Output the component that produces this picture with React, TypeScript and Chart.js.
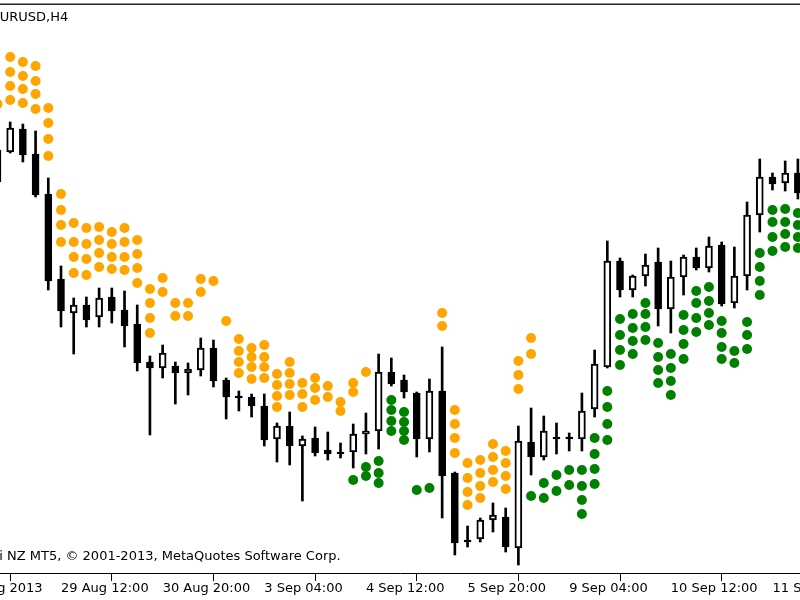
import React, { useEffect, useRef } from "react";
import { Chart, registerables } from "chart.js";

Chart.register(...registerables);

const chartTitle = "EURUSD,H4";
const copyright = "Alpari NZ MT5, \u00A9 2001-2013, MetaQuotes Software Corp.";

// H4 candles (EURUSD), bar index 0..63
const openPrices = [
  1.33375, 1.33365, 1.3348, 1.33355, 1.33155, 1.3273, 1.3256, 1.326, 1.3254, 1.3264,
  1.32575, 1.32505, 1.32315, 1.32285, 1.32295, 1.3226, 1.32275, 1.32385, 1.32225, 1.3214,
  1.3214, 1.32095, 1.3193, 1.31995, 1.31895, 1.31935, 1.31875, 1.3186, 1.31865, 1.31955,
  1.3197, 1.32265, 1.32225, 1.3216, 1.3193, 1.3217, 1.3176, 1.3142, 1.3143, 1.31525,
  1.3154, 1.31385, 1.31915, 1.3184, 1.31935, 1.31935, 1.3193, 1.3208, 1.3229, 1.3282,
  1.32675, 1.32745, 1.32815, 1.3258, 1.3274, 1.3284, 1.32785, 1.329, 1.3261, 1.32745,
  1.3305, 1.3324, 1.3321, 1.3326,
];
const highPrices = [
  1.33425, 1.33515, 1.33505, 1.3347, 1.33235, 1.32795, 1.32635, 1.3264, 1.32685, 1.32685,
  1.3267, 1.326, 1.32345, 1.324, 1.32315, 1.3231, 1.32435, 1.32425, 1.32235, 1.3217,
  1.32155, 1.32155, 1.3201, 1.32065, 1.31945, 1.3199, 1.31965, 1.3191, 1.32005, 1.3206,
  1.32355, 1.32335, 1.3225, 1.32165, 1.3223, 1.3239, 1.31765, 1.31495, 1.31535, 1.3161,
  1.31585, 1.31995, 1.32085, 1.32045, 1.3201, 1.3196, 1.3216, 1.32375, 1.3292, 1.32835,
  1.3275, 1.32855, 1.32885, 1.3282, 1.3285, 1.32885, 1.3294, 1.32915, 1.3289, 1.33115,
  1.3333, 1.3326, 1.3332, 1.3333,
];
const lowPrices = [
  1.33175, 1.3336, 1.33315, 1.3314, 1.32675, 1.3249, 1.32355, 1.3249, 1.3249, 1.3251,
  1.3239, 1.3227, 1.3195, 1.32235, 1.32105, 1.3215, 1.32245, 1.3219, 1.3203, 1.3207,
  1.3204, 1.31895, 1.31815, 1.318, 1.3162, 1.31845, 1.31825, 1.31835, 1.31785, 1.31855,
  1.3188, 1.32195, 1.32135, 1.3184, 1.31865, 1.31535, 1.3135, 1.3139, 1.31415, 1.31465,
  1.31365, 1.313, 1.3175, 1.31825, 1.31855, 1.3187, 1.3187, 1.3204, 1.32285, 1.3264,
  1.3264, 1.32695, 1.32495, 1.3246, 1.3265, 1.32775, 1.32765, 1.32595, 1.32585, 1.32675,
  1.32965, 1.33175, 1.3317, 1.3313,
];
const closePrices = [
  1.33215, 1.33485, 1.3335, 1.3315, 1.3272, 1.3257, 1.326, 1.32525, 1.32635, 1.3257,
  1.32495, 1.3231, 1.32285, 1.3236, 1.3226, 1.3228, 1.32385, 1.3222, 1.3214, 1.3214,
  1.32095, 1.31925, 1.31995, 1.31895, 1.3193, 1.3186, 1.31855, 1.3186, 1.31955, 1.3197,
  1.32265, 1.32205, 1.32165, 1.3193, 1.3217, 1.31745, 1.3141, 1.3142, 1.31525, 1.3155,
  1.3139, 1.3192, 1.3184, 1.3197, 1.31935, 1.31935, 1.3207, 1.32305, 1.3282, 1.32675,
  1.32745, 1.328, 1.3258, 1.3274, 1.3284, 1.32785, 1.32895, 1.32605, 1.32745, 1.3305,
  1.3324, 1.33205, 1.3326, 1.3316,
];

// Indicator dots above price (orange) per bar
const orangeDots: number[][] = [
  [1.33815, 1.33745, 1.33675, 1.33605],
  [1.3384, 1.33765, 1.33695, 1.33625],
  [1.33815, 1.33745, 1.3368, 1.3361],
  [1.33795, 1.3372, 1.33655, 1.3358],
  [1.33585, 1.3351, 1.3343, 1.33345],
  [1.33155, 1.33075, 1.33, 1.32915],
  [1.3301, 1.32915, 1.3284, 1.3276],
  [1.32985, 1.32905, 1.3283, 1.3275],
  [1.3299, 1.32925, 1.3286, 1.3279],
  [1.32965, 1.32905, 1.3284, 1.3278],
  [1.32985, 1.32915, 1.3284, 1.32775],
  [1.32925, 1.32855, 1.32785, 1.3271],
  [1.3268, 1.3261, 1.32535, 1.3246],
  [1.32735, 1.32665],
  [1.3261, 1.32545],
  [1.3261, 1.32545],
  [1.3273, 1.32665],
  [1.3272],
  [1.3252],
  [1.3243, 1.3237, 1.32315, 1.3226],
  [1.32385, 1.3234, 1.3229, 1.3223],
  [1.324, 1.3234, 1.3229, 1.32235],
  [1.32255, 1.322, 1.32145, 1.3209],
  [1.32315, 1.3226, 1.32205, 1.3215],
  [1.3221, 1.32155, 1.3209],
  [1.32235, 1.32185, 1.32125],
  [1.32195, 1.3214],
  [1.32115, 1.3207],
  [1.3221, 1.32165],
  [1.32265],
  [], [], [], [], [],
  [1.3256, 1.32495],
  [1.32075, 1.32005, 1.31935, 1.3186],
  [1.3181, 1.31735, 1.31665, 1.316],
  [1.31825, 1.3176, 1.31695, 1.31635],
  [1.31905, 1.3184, 1.31775, 1.31715],
  [1.3187, 1.3181, 1.31745, 1.3168],
  [1.3232, 1.3225, 1.3218],
  [1.32435, 1.32355],
  [], [], [], [], [], [], [], [], [], [], [], [], [], [], [], [], [], [], [], [], [],
];

// Indicator dots below price (green) per bar
const greenDots: number[][] = [
  [], [], [], [], [], [], [], [], [], [],
  [], [], [], [], [], [], [], [], [], [],
  [], [], [], [], [], [], [], [],
  [1.31725],
  [1.3179, 1.31745],
  [1.3182, 1.3176, 1.3171],
  [1.32125, 1.32075, 1.3202, 1.3197],
  [1.32065, 1.32015, 1.3197, 1.31925],
  [1.31675],
  [1.31685],
  [], [], [], [], [], [], [],
  [1.31645],
  [1.3171, 1.31635],
  [1.3175, 1.3167],
  [1.31775, 1.317],
  [1.31775, 1.31695, 1.31625, 1.31555],
  [1.31935, 1.31855, 1.3178, 1.31705],
  [1.3217, 1.3209, 1.32005, 1.31925],
  [1.3253, 1.3245, 1.32375, 1.323],
  [1.32555, 1.32485, 1.3242, 1.32355],
  [1.3261, 1.32555, 1.3249, 1.32425],
  [1.3241, 1.3234, 1.32275, 1.3221],
  [1.32355, 1.32285, 1.3222, 1.3215],
  [1.3255, 1.32475, 1.32405, 1.3233],
  [1.3267, 1.3261, 1.32535, 1.32465],
  [1.3269, 1.3262, 1.3256, 1.325],
  [1.3252, 1.3246, 1.3239, 1.3233],
  [1.3237, 1.3231],
  [1.32515, 1.3245, 1.3238],
  [1.3286, 1.3279, 1.3272, 1.3265],
  [1.33075, 1.33015, 1.3294, 1.3287],
  [1.3308, 1.33015, 1.32955, 1.3289],
  [1.3306, 1.33, 1.3294, 1.32885],
];

// Time axis labels (bar index -> label)
const tickBars = [-3, 5, 13, 21, 29, 37, 45, 53, 61];
const tickLabels = [
  "28 Aug 2013",
  "29 Aug 12:00",
  "30 Aug 20:00",
  "3 Sep 04:00",
  "4 Sep 12:00",
  "5 Sep 20:00",
  "9 Sep 04:00",
  "10 Sep 12:00",
  "11 Sep 20:00",
];

const priceMin = 1.3126;
const priceMax = 1.34125;
const barMin = 0.199;
const barMax = 63.166;

export default function App() {
  const canvasRef = useRef<HTMLCanvasElement | null>(null);

  useEffect(() => {
    if (!canvasRef.current) return;
    const n = openPrices.length;
    const idx = openPrices.map((_, i) => i);
    const bull = idx.map((i) => closePrices[i] > openPrices[i]);

    const wickData = idx.map((i) => ({ x: i, y: [lowPrices[i], highPrices[i]] }));
    const bodyData = idx.map((i) => {
      const o = openPrices[i];
      const c = closePrices[i];
      // doji: give it a visible hairline body
      if (o === c) return { x: i, y: [o - 0.00005, c + 0.00005] };
      return { x: i, y: [o, c] };
    });
    const orangePts: { x: number; y: number }[] = [];
    const greenPts: { x: number; y: number }[] = [];
    for (let i = 0; i < n; i++) {
      (orangeDots[i] || []).forEach((v) => orangePts.push({ x: i, y: v }));
      (greenDots[i] || []).forEach((v) => greenPts.push({ x: i, y: v }));
    }

    const overlay = {
      id: "overlay",
      beforeDraw(chart: any) {
        const ctx = chart.ctx;
        ctx.save();
        ctx.fillStyle = "#ffffff";
        ctx.fillRect(0, 0, chart.width, chart.height);
        ctx.restore();
      },
      afterDraw(chart: any) {
        const ctx = chart.ctx;
        ctx.save();
        ctx.fillStyle = "#222222";
        ctx.fillRect(0, 3.5, chart.width, 1.5);
        ctx.fillStyle = "#000000";
        ctx.font = '13px "DejaVu Sans"';
        ctx.textAlign = "left";
        ctx.textBaseline = "alphabetic";
        ctx.fillText(chartTitle, -8.5, 21);
        const pre = ctx.measureText("Alpari ").width;
        ctx.fillText(copyright, 7 - pre, 560);
        ctx.restore();
      },
    };

    const chart = new Chart(canvasRef.current, {
      type: "bar",
      data: {
        datasets: [
          {
            type: "bar",
            data: wickData as any,
            backgroundColor: "#000000",
            borderWidth: 0,
            barThickness: 2,
            grouped: false,
            order: 3,
          } as any,
          {
            type: "bar",
            data: bodyData as any,
            backgroundColor: idx.map((i) => (bull[i] ? "#ffffff" : "#000000")),
            borderColor: "#000000",
            borderWidth: 2,
            borderSkipped: false,
            barThickness: 7,
            grouped: false,
            order: 2,
          } as any,
          {
            type: "scatter",
            data: orangePts,
            backgroundColor: "#FFA500",
            borderWidth: 0,
            pointRadius: 5,
            order: 1,
          } as any,
          {
            type: "scatter",
            data: greenPts,
            backgroundColor: "#008000",
            borderWidth: 0,
            pointRadius: 5,
            order: 1,
          } as any,
        ],
      },
      options: {
        responsive: false,
        animation: false,
        devicePixelRatio: 1,
        layout: { padding: 0, autoPadding: false },
        plugins: {
          legend: { display: false },
          tooltip: { enabled: false },
          title: { display: false },
        },
        scales: {
          x: {
            type: "linear",
            min: barMin,
            max: barMax,
            bounds: "data",
            offset: false,
            position: "bottom",
            afterBuildTicks: (scale: any) => {
              scale.ticks = tickBars.map((v) => ({ value: v }));
            },
            afterFit: (scale: any) => {
              scale.paddingLeft = 0;
              scale.paddingRight = 0;
              scale.height = 27;
            },
            grid: {
              display: true,
              drawOnChartArea: false,
              drawTicks: true,
              tickLength: 8,
              color: "#000000",
              lineWidth: 1,
            },
            border: { display: true, color: "#000000", width: 1 },
            ticks: {
              autoSkip: false,
              maxRotation: 0,
              minRotation: 0,
              align: "start",
              padding: 0,
              color: "#000000",
              font: { family: "DejaVu Sans", size: 13 },
              callback: (_v: any, i: number) => tickLabels[i],
            },
          },
          y: {
            type: "linear",
            display: false,
            min: priceMin,
            max: priceMax,
            bounds: "data",
          },
        },
      } as any,
      plugins: [overlay],
    });

    return () => chart.destroy();
  }, []);

  return (
    <div style={{ position: "absolute", left: 0, top: 0, width: 800, height: 600, background: "#fff" }}>
      <canvas ref={canvasRef} width={800} height={600} style={{ display: "block" }} />
    </div>
  );
}
